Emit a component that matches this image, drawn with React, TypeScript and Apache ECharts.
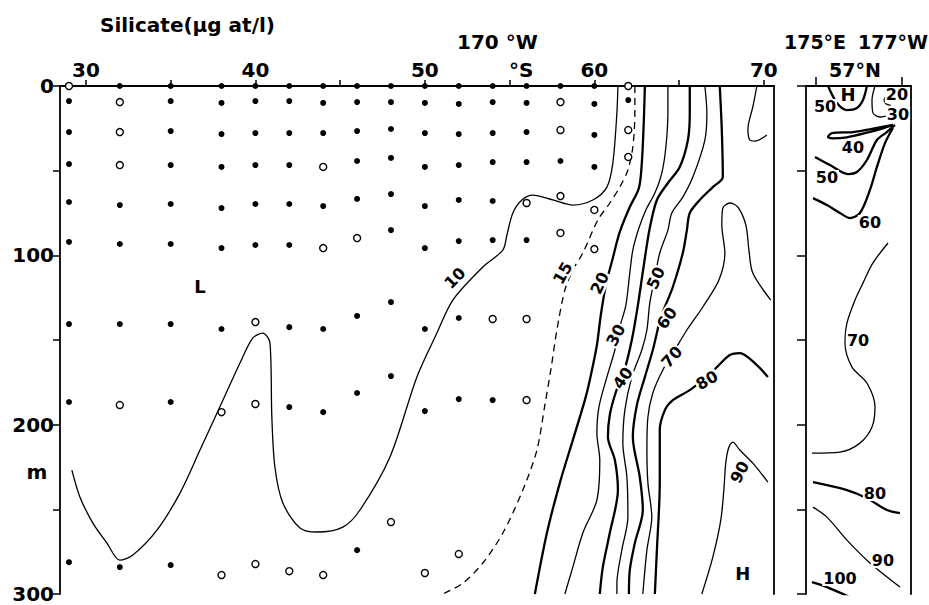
import React, { useEffect, useRef } from "react";
import * as echarts from "echarts";

// ---------- axes ----------
const latTicks = [30, 35, 40, 45, 50, 55, 60, 65, 70];
const latLabels = [30, 40, 50, 60, 70];
const lonTicks = [175, 183]; // 175°E and 177°W (=183°E)

// ---------- sampling points (lat °S, depth m) ----------
const filledSamples: number[][] = [
  [32, 0], [35, 0], [38, 0], [40, 0], [42, 0], [44, 0], [46, 0], [48, 0], [50, 0], [52, 0], [54, 0], [56, 0], [58, 0], [60, 0],
  [29, 8.9], [35, 8.9], [38, 10], [40, 8.9], [42, 8.9], [44, 10], [46, 9.5], [48, 9.5], [50, 10], [52, 10.6], [54, 9.5], [56, 10], [60, 10.6], [62, 8.3],
  [29, 27.2], [35, 26.6], [38, 28.4], [40, 27.8], [42, 27.8], [44, 27.8], [46, 26.6], [48, 25.4], [50, 27.8], [52, 28.4], [54, 27.8], [56, 27.2], [60, 28.9],
  [29, 46.1], [35, 46.7], [38, 47.8], [40, 46.7], [42, 46.7], [46, 44.3], [48, 42.5], [50, 47.8], [52, 46.7], [54, 44.9], [56, 44.9], [58, 44.3], [60, 47.8],
  [29, 68.5], [32, 70.3], [35, 69.7], [38, 72.1], [40, 69.7], [42, 69.7], [44, 70.9], [46, 66.7], [48, 63.8], [50, 70.9], [52, 67.3], [54, 67.9],
  [29, 92.1], [32, 93.3], [35, 93.3], [38, 95.7], [40, 93.9], [42, 93.9], [48, 85.1], [50, 95.7], [52, 91.6], [54, 91], [56, 91],
  [29, 140.6], [32, 140.6], [35, 140.6], [38, 143.5], [42, 142.4], [44, 143.5], [46, 135.8], [48, 127.6], [50, 143.5], [52, 137],
  [29, 186.6], [35, 186.6], [42, 189.6], [44, 192.6], [46, 181.3], [48, 171.3], [50, 192], [52, 184.9], [54, 185.5],
  [29, 281.2], [32, 284.1], [35, 282.9], [46, 274.1],
];
const openSamples: number[][] = [
  [29, 0], [62, 0],
  [32, 9.5], [58, 9.5],
  [32, 27.2], [58, 26], [62, 26],
  [32, 46.7], [44, 47.8], [62, 41.9],
  [56, 69.1], [58, 65], [60, 73.2],
  [44, 95.7], [46, 89.8], [58, 86.8], [60, 96.3],
  [40, 139.4], [54, 137.6], [56, 137.6],
  [32, 188.4], [38, 192.6], [40, 187.8], [56, 185.5],
  [38, 288.8], [40, 282.3], [42, 286.5], [44, 288.8], [48, 257.5], [50, 287.6], [52, 276.4],
];

// ---------- main section isolines (lat, depth) ----------
const iso10 = [[29.17, 226.8], [29.65, 242.8], [30.41, 258.1], [31.24, 269.9], [32.0, 280], [32.77, 277], [34.19, 262.3], [35.55, 240.4], [36.73, 215], [37.9, 189.6], [39.09, 163.6], [39.85, 148.8], [40.44, 145.9], [40.86, 151.8], [40.97, 195.5], [41.15, 225], [41.62, 246.3], [42.63, 261], [43.63, 263.4], [45.16, 260.5], [46.17, 250.4], [47.94, 219.1], [49.53, 171.8], [50.71, 145.9], [51.65, 126.4], [53.42, 106.9], [54.6, 96.9], [54.84, 88], [55.19, 75], [55.72, 67.3], [56.37, 64.4], [57.55, 67.3], [58.73, 70.3], [59.91, 67.3], [60.74, 59.7], [61.09, 45.5], [61.33, 15.9], [61.39, 0]];
const iso15 = [[62.39, 0], [62.39, 15.9], [62.27, 36], [61.98, 49.6], [61.5, 59.7], [60.91, 69.1], [60.21, 79.1], [59.32, 98.6], [58.73, 108.7], [58.26, 120.5], [57.79, 144.1], [57.43, 167.7], [57.08, 188.4], [56.61, 215], [55.78, 238.6], [54.6, 264], [53.42, 281.7], [52.24, 293.6], [51.06, 300]];
const iso20 = [[62.98, 0], [62.92, 20.1], [62.8, 45.5], [62.63, 60.2], [62.09, 71.5], [61.5, 86.2], [61.09, 101.6], [60.68, 117.5], [60.38, 135.3], [60.15, 153], [59.73, 173.7], [59.44, 185.5], [58.73, 209.1], [57.96, 234.5], [57.2, 264], [56.49, 300]];
const iso30 = [[64.34, 0], [64.34, 15.9], [64.22, 36], [63.98, 51.4], [63.57, 63.2], [63.04, 73.2], [62.63, 83.9], [62.27, 96.9], [62.09, 110.5], [61.86, 129.4], [61.5, 142.4], [61.21, 155.9], [60.74, 171.9], [60.27, 189.6], [60.15, 205], [60.32, 220.9], [60.15, 244.5], [59.32, 264], [58.73, 284.1], [58.26, 300]];
const iso40 = [[65.63, 0], [65.63, 15.9], [65.52, 31.9], [65.04, 47.8], [64.34, 57.3], [63.69, 67.3], [63.27, 83.9], [62.92, 105.7], [62.57, 129.4], [62.21, 150], [61.74, 168.9], [61.27, 180.7], [60.91, 194.3], [60.8, 207.3], [61.21, 220.9], [61.39, 238.6], [60.91, 264], [60.5, 284.1], [60.32, 300]];
const iso50 = [[66.52, 0], [66.64, 15.9], [66.52, 31.9], [65.81, 53.8], [65.22, 65.6], [64.57, 75], [64.34, 85.1], [63.86, 98.6], [63.57, 112.8], [63.27, 128.2], [63.1, 144.1], [62.8, 155.9], [62.21, 171.9], [61.8, 191.4], [61.68, 210.9], [61.92, 230.9], [61.98, 254.6], [61.62, 274.1], [61.33, 293.6], [61.33, 300]];
const iso60 = [[67.4, 0], [67.52, 26], [67.58, 53.8], [66.99, 59.7], [66.22, 67.3], [65.63, 75], [65.46, 85.1], [65.22, 98.6], [64.63, 118.7], [64.16, 130.5], [63.86, 138.2], [63.69, 145.9], [63.45, 155.9], [62.98, 171.9], [62.51, 188.4], [62.27, 207.3], [62.68, 230.9], [62.86, 250.4], [62.39, 269.9], [62.09, 285.9], [62.04, 300]];
const iso70 = [[70.41, 126.4], [69.35, 110.5], [69.12, 96.9], [68.94, 82.1], [68.47, 71.5], [67.99, 69.1], [67.58, 72.1], [67.52, 82.1], [67.7, 98.6], [67.35, 114.6], [66.4, 130.5], [65.46, 144.1], [64.75, 155.9], [64.04, 167.7], [63.45, 181.3], [63.16, 195.5], [63.1, 215], [63.16, 234.5], [63.39, 254.6], [63.1, 274.1], [62.86, 300]];
const iso70top = [[69.59, 0], [69.35, 12.4], [69.06, 25.4], [69.17, 31.9], [69.47, 32.5], [70.18, 28.9]];
const iso80 = [[70.24, 171.9], [69.59, 164.8], [68.58, 157.7], [67.99, 158.9], [67.23, 166], [66.52, 172.5], [65.63, 179.6], [64.63, 185.5], [64.16, 191.4], [63.86, 203.2], [63.86, 234.5], [63.69, 274.1], [63.57, 300]];
const iso90 = [[70.24, 233.9], [69.35, 222.7], [68.58, 215], [68.17, 210.3], [67.94, 213.2], [67.76, 222.1], [67.64, 238.6], [67.46, 256.4], [66.99, 278.2], [66.34, 300]];

// ---------- 57°N section isolines (longitude °E, depth) ----------
const nHigh = [[176.12, 0], [176.95, 10], [177.88, 14.2], [178.81, 13], [179.37, 8.3], [179.74, 0]];
const n20 = [[182.2, 2.5], [181.33, 8.3], [181.5, 10.5], [181.95, 11.5]];
const n30 = [[180.49, 0], [180.21, 8.3], [180.3, 15.9], [180.95, 18.3], [182.07, 17.1]];
const n40 = [[182.16, 23], [180.67, 24.8], [178.44, 27.2], [176.49, 27.8], [176.12, 30.1], [176.49, 30.9], [177.88, 30.3], [179.74, 27.6], [181.23, 25], [182.16, 23]];
const n50 = [[174.91, 41.9], [176.3, 46.7], [177.98, 52], [178.81, 50.8], [179.74, 43.7], [180.67, 31.9], [181.6, 27.2], [182.35, 23]];
const n60 = [[174.72, 66.2], [176.02, 70.3], [177.23, 75], [178.16, 78], [179.09, 75], [180.02, 61.4], [180.67, 47.8], [181.42, 33.7], [182.16, 24.8]];
const n70 = [[181.7, 92.7], [180.3, 104.5], [179.37, 116.4], [178.63, 126.4], [177.88, 140], [177.7, 151.8], [178.35, 166], [179.74, 175.4], [180.49, 189.6], [180.21, 201.4], [179.09, 210.9], [177.23, 216.2], [174.63, 216.8]];
const n80 = [[174.72, 233.9], [177.88, 238.6], [179.74, 243.4], [181.6, 250.4], [182.81, 252.2]];
const n90 = [[174.72, 248.7], [176.02, 254.6], [177.88, 268.2], [180.02, 281.7], [182.81, 295.9]];
const n100 = [[174.63, 293], [176.02, 295.9], [178.35, 302.4]];

// ---------- isoline labels ----------
const mainLabelText = ["10", "15", "20", "30", "40", "50", "60", "70", "80", "90", "L", "H"];
const mainLabelPos = [[51.77, 113.4], [58.14, 110.5], [60.32, 116.4], [61.27, 147.1], [61.68, 172.5], [63.63, 113.4], [64.28, 137], [64.57, 160], [66.64, 173.7], [68.58, 228], [36.73, 118.7], [68.76, 287.7]];
const northLabelText = ["H", "50", "20", "30", "40", "50", "60", "70", "80", "90", "100"];
const northLabelPos = [[177.98, 5.3], [175.84, 12.4], [182.53, 5.3], [182.63, 17.1], [178.44, 36.6], [176.02, 54.3], [180.02, 80.9], [178.91, 150], [180.49, 240.4], [181.23, 280], [177.23, 290.6]];

const FONT = "DejaVu Sans";
const mainLabelRotate = [45, 60, 65, 62, 55, 65, 55, 48, 30, 62, 0, 0];

export default function App() {
  const ref = useRef<HTMLDivElement>(null);
  useEffect(() => {
    if (!ref.current) return;
    const chart = echarts.init(ref.current, undefined, { renderer: "svg" });
    const black = "#000";

    const line = (data: number[][], thick: boolean, grid: number, dashed = false) => ({
      type: "line",
      xAxisIndex: grid === 0 ? 0 : 1,
      yAxisIndex: grid === 0 ? 0 : 2,
      data,
      smooth: 0.3,
      showSymbol: false,
      symbol: "none",
      silent: true,
      z: 2,
      lineStyle: { color: black, width: thick ? 2.3 : 1.3, type: dashed ? [7, 5] : "solid" },
    });

    const labelBase = {
      show: true,
      position: "inside",
      formatter: "{b}",
      color: black,
      opacity: 1,
      textBorderWidth: 0,
      fontFamily: FONT,
      fontWeight: "bold",
      fontSize: 16,
      padding: [0, 1],
    };

    const labelSeries = (texts: string[], pos: number[][], rot: number[] | null, grid: number) => ({
      type: "scatter",
      xAxisIndex: grid === 0 ? 0 : 1,
      yAxisIndex: grid === 0 ? 0 : 2,
      symbol: "circle",
      symbolSize: 0,
      silent: true,
      z: 4,
      itemStyle: { color: black, opacity: 1 },
      data: texts.map((t, i) => {
        const letter = t === "H" || t === "L";
        return {
          name: t,
          value: pos[i],
          label: {
            ...labelBase,
            rotate: rot ? rot[i] : 0,
            fontSize: letter ? 18 : 16,
            backgroundColor: letter ? "transparent" : "#fff",
          },
        };
      }),
      label: labelBase,
    });

    const axisLine = { show: true, onZero: false, lineStyle: { color: black, width: 1.8 } };
    const tickStyle = { color: black, width: 1.5 };
    const bigLabel = { color: black, fontFamily: FONT, fontWeight: "bold" as const, fontSize: 20 };

    chart.setOption({
      animation: false,
      backgroundColor: "#fff",
      textStyle: { fontFamily: FONT, color: black },
      grid: [
        { left: 60, top: 86, width: 714, height: 508 },
        { left: 806, top: 86, width: 105, height: 508 },
      ],
      xAxis: [
        {
          gridIndex: 0, type: "value", position: "top", min: 28.47, max: 70.6,
          axisLine, splitLine: { show: false },
          axisTick: { show: true, customValues: latTicks, length: 6, lineStyle: tickStyle },
          axisLabel: { ...bigLabel, customValues: latLabels, margin: 6 },
        },
        {
          gridIndex: 1, type: "value", position: "top", min: 174.07, max: 183.84,
          axisLine, splitLine: { show: false },
          axisTick: { show: true, customValues: lonTicks, length: 9, lineStyle: tickStyle },
          axisLabel: { show: false },
        },
      ],
      yAxis: [
        {
          gridIndex: 0, type: "value", inverse: true, min: 0, max: 300, interval: 50,
          axisLine, splitLine: { show: false },
          axisTick: { show: true, length: 7, lineStyle: tickStyle },
          axisLabel: { ...bigLabel, margin: 6, formatter: (v: number) => (v % 100 === 0 ? String(v) : "") },
        },
        {
          gridIndex: 0, type: "value", position: "right", inverse: true, min: 0, max: 300,
          axisLine, splitLine: { show: false }, axisTick: { show: false }, axisLabel: { show: false },
        },
        {
          gridIndex: 1, type: "value", inverse: true, min: 0, max: 300, interval: 50,
          axisLine, splitLine: { show: false },
          axisTick: { show: true, length: 9, lineStyle: tickStyle },
          axisLabel: { show: false },
        },
        {
          gridIndex: 1, type: "value", position: "right", inverse: true, min: 0, max: 300,
          axisLine, splitLine: { show: false }, axisTick: { show: false }, axisLabel: { show: false },
        },
      ],
      series: [
        line(iso10, false, 0),
        line(iso15, false, 0, true),
        line(iso20, true, 0),
        line(iso30, false, 0),
        line(iso40, true, 0),
        line(iso50, false, 0),
        line(iso60, true, 0),
        line(iso70, false, 0),
        line(iso70top, false, 0),
        line(iso80, true, 0),
        line(iso90, false, 0),
        line(nHigh, true, 1),
        line(n20, false, 1),
        line(n30, false, 1),
        line(n40, true, 1),
        line(n50, true, 1),
        line(n60, true, 1),
        line(n70, false, 1),
        line(n80, true, 1),
        line(n90, false, 1),
        line(n100, true, 1),
        labelSeries(mainLabelText, mainLabelPos, mainLabelRotate, 0),
        labelSeries(northLabelText, northLabelPos, null, 1),
        {
          type: "scatter", xAxisIndex: 0, yAxisIndex: 0, data: filledSamples,
          symbol: "circle", symbolSize: 6, silent: true, z: 5,
          itemStyle: { color: black, opacity: 1 },
        },
        {
          type: "scatter", xAxisIndex: 0, yAxisIndex: 0, data: openSamples,
          symbol: "circle", symbolSize: 7, silent: true, z: 5,
          itemStyle: { color: "#fff", borderColor: black, borderWidth: 1.4, opacity: 1 },
        },
      ],
      graphic: [
        { type: "text", x: 100, y: 25, style: { text: "Silicate(μg at/l)", fill: black, font: `bold 20px "${FONT}"`, textAlign: "left", textVerticalAlign: "middle" } },
        { type: "text", x: 457, y: 42, style: { text: "170 °W", fill: black, font: `bold 20px "${FONT}"`, textAlign: "left", textVerticalAlign: "middle" } },
        { type: "text", x: 509, y: 70, style: { text: "°S", fill: black, font: `bold 20px "${FONT}"`, textAlign: "left", textVerticalAlign: "middle" } },
        { type: "text", x: 815, y: 42, style: { text: "175°E", fill: black, font: `bold 19px "${FONT}"`, textAlign: "center", textVerticalAlign: "middle" } },
        { type: "text", x: 893, y: 42, style: { text: "177°W", fill: black, font: `bold 19px "${FONT}"`, textAlign: "center", textVerticalAlign: "middle" } },
        { type: "text", x: 855, y: 70, style: { text: "57°N", fill: black, font: `bold 19px "${FONT}"`, textAlign: "center", textVerticalAlign: "middle" } },
        { type: "text", x: 37, y: 472, style: { text: "m", fill: black, font: `bold 20px "${FONT}"`, textAlign: "center", textVerticalAlign: "middle" } },
      ],
    });
    return () => chart.dispose();
  }, []);
  return <div ref={ref} style={{ width: 929, height: 605, position: "absolute", left: 0, top: 0 }} />;
}
